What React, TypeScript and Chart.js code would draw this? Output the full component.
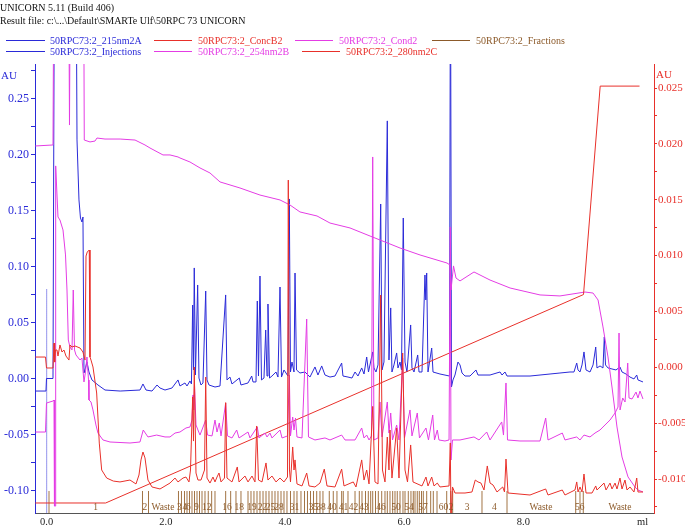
import { useEffect, useRef } from "react";
import { Chart, registerables } from "chart.js";
Chart.register(...registerables);

// ---- data (x in ml) ----
const uv215nm2A: [number, number][] = [
  [-0.19, -0.0112], [-0.012, -0.0112], [-0.003, 0.0], [0.106, 0.0], [0.131, 0.4], [0.492, 0.4],
  [0.509, 0.213], [0.542, 0.1594], [0.567, 0.1433], [0.592, 0.1397], [0.609, 0.1442], [0.626, 0.0049],
  [0.651, 0.0094], [0.676, 0.0147], [0.71, 0.0058], [0.76, -0.0013], [0.861, -0.0058], [0.979, -0.0103],
  [1.233, -0.0112], [1.567, -0.0103], [1.616, -0.0049], [1.667, -0.0103], [1.768, -0.0112], [1.852, -0.0058],
  [1.902, -0.0085], [1.986, -0.0103], [2.103, -0.0085], [2.204, -0.0013], [2.237, -0.0067], [2.321, -0.004],
  [2.355, -0.0067], [2.405, -0.0022], [2.43, -0.0049], [2.45, 0.0656], [2.464, 0.0076], [2.477, 0.0987],
  [2.497, 0.0031], [2.534, 0.0835], [2.556, 0.0004], [2.59, -0.0058], [2.623, -0.004], [2.669, 0.0781],
  [2.691, -0.0013], [2.724, -0.0058], [2.825, -0.0076], [2.909, -0.0067], [3.004, 0.0746], [3.026, -0.0013],
  [3.076, 0.0013], [3.11, -0.0049], [3.233, 0.0004], [3.261, -0.0058], [3.379, -0.004], [3.441, 0.0022],
  [3.463, -0.0031], [3.513, -0.0031], [3.535, 0.0692], [3.555, 0.0022], [3.58, 0.0915], [3.605, -0.0013],
  [3.647, 0.0004], [3.676, 0.0433], [3.698, 0.0022], [3.714, 0.0665], [3.74, 0.0004], [3.781, 0.0022],
  [3.849, 0.0058], [3.882, 0.0013], [3.916, 0.0817], [3.941, 0.0013], [3.983, 0.0076], [4.05, 0.0022],
  [4.072, 0.1603], [4.092, 0.0058], [4.117, 0.0147], [4.151, 0.0058], [4.168, 0.0942], [4.193, 0.0076],
  [4.251, 0.0049], [4.335, 0.0058], [4.419, 0.0013], [4.503, 0.0103], [4.553, 0.0031], [4.616, 0.0112],
  [4.671, 0.0031], [4.755, 0.0013], [4.839, 0.0022], [4.951, 0.0138], [4.973, 0.0022], [5.057, 0.0013],
  [5.124, 0.0004], [5.175, 0.0058], [5.225, 0.0022], [5.287, 0.0094], [5.326, 0.004], [5.371, 0.0192],
  [5.401, 0.0058], [5.472, 0.0237], [5.493, 0.0094], [5.527, 0.0058], [5.561, 0.0121], [5.606, 0.1558],
  [5.628, 0.0076], [5.661, 0.0147], [5.717, 0.23], [5.745, 0.0165], [5.774, 0.063], [5.795, 0.0058],
  [5.829, 0.0121], [5.874, 0.0228], [5.896, 0.0094], [5.93, 0.0147], [5.955, 0.0076], [5.985, 0.1433],
  [6.014, 0.0147], [6.047, 0.0058], [6.109, 0.0478], [6.131, 0.0094], [6.165, 0.0058], [6.227, 0.021],
  [6.249, 0.0058], [6.299, 0.0058], [6.349, 0.0924], [6.363, 0.0701], [6.378, 0.0942], [6.4, 0.0058],
  [6.462, 0.0272], [6.484, 0.0058], [6.601, 0.004], [6.761, 0.0022], [6.777, 0.4], [6.794, -0.0076],
  [6.819, -0.0013], [6.853, 0.0031], [6.903, 0.0147], [6.937, 0.0121], [6.971, 0.0049], [7.021, 0.0022],
  [7.105, 0.0022], [7.205, 0.0076], [7.239, 0.0031], [7.441, 0.0031], [7.609, 0.0058], [7.642, 0.0031],
  [7.692, 0.0058], [7.726, 0.0022], [8.112, 0.0022], [8.448, 0.004], [8.615, 0.0049], [8.783, 0.0058],
  [8.85, 0.0058], [8.896, 0.0138], [8.918, 0.0076], [8.951, 0.0058], [8.985, 0.0121], [9.018, 0.0237],
  [9.052, 0.0076], [9.119, 0.0058], [9.17, 0.0121], [9.215, 0.0281], [9.236, 0.0094], [9.287, 0.0112],
  [9.337, 0.0094], [9.359, 0.0371], [9.379, 0.0121], [9.421, 0.0094], [9.488, 0.0085], [9.555, 0.0076],
  [9.622, 0.0103], [9.656, 0.0058], [9.723, 0.004], [9.79, 0.0013], [9.857, -0.0004], [9.903, 0.0031],
  [9.924, -0.0013], [10.008, -0.0031],
];

const uv254nm2B: [number, number][] = [
  [-0.19, -0.0478], [-0.02, -0.0478], [-0.003, -0.0219], [0.106, -0.0201], [0.123, -0.0192], [0.131, -0.1139],
  [0.143, -0.1139], [0.151, 0.1898], [0.19, 0.1442], [0.223, 0.1415], [0.274, 0.1326], [0.316, 0.1103],
  [0.341, 0.079], [0.363, 0.0344], [0.391, 0.0281], [0.425, 0.0255], [0.446, 0.079], [0.467, 0.0255],
  [0.492, 0.021], [0.559, 0.0165], [0.592, 0.0183], [0.626, -0.0031], [0.651, 0.0058], [0.676, 0.0192],
  [0.702, -0.0013], [0.71, -0.0192], [0.744, -0.021], [0.777, -0.0281], [0.827, -0.0415], [0.861, -0.0487],
  [0.945, -0.0549], [1.063, -0.0567], [1.398, -0.0576], [1.566, -0.0567], [1.621, -0.046], [1.7, -0.0522],
  [1.846, -0.0505], [1.986, -0.0522], [2.07, -0.0522], [2.154, -0.0487], [2.237, -0.0478], [2.338, -0.0442],
  [2.405, -0.0433], [2.439, -0.0371], [2.456, -0.0147], [2.467, -0.0281], [2.481, -0.0058], [2.506, -0.0415],
  [2.539, -0.046], [2.573, -0.0505], [2.669, -0.0371], [2.699, -0.0505], [2.775, -0.0513], [2.825, -0.0371],
  [2.859, -0.0478], [2.897, -0.0397], [2.926, -0.0513], [3.004, -0.0219], [3.035, -0.0513], [3.11, -0.0531],
  [3.189, -0.046], [3.228, -0.0531], [3.379, -0.0478], [3.412, -0.0531], [3.535, -0.0433], [3.563, -0.0531],
  [3.664, -0.0487], [3.698, -0.0522], [3.748, -0.0487], [3.781, -0.0531], [3.916, -0.046], [3.95, -0.0531],
  [4.042, -0.0513], [4.072, 0.0031], [4.092, -0.0513], [4.129, -0.0344], [4.151, -0.046], [4.176, -0.0353],
  [4.201, -0.0522], [4.285, -0.0531], [4.364, 0.0531], [4.394, -0.0522], [4.503, -0.0549], [4.671, -0.0531],
  [4.755, -0.0549], [4.951, -0.0505], [5.007, -0.0549], [5.175, -0.0549], [5.287, -0.0442], [5.326, -0.0531],
  [5.371, -0.0505], [5.41, -0.0549], [5.452, -0.0513], [5.472, 0.1978], [5.493, -0.0549], [5.561, -0.0531],
  [5.594, -0.021], [5.628, -0.0522], [5.717, -0.021], [5.745, -0.0487], [5.774, -0.0308], [5.804, -0.0549],
  [5.874, -0.0415], [5.913, -0.0549], [5.975, 0.0183], [6.005, -0.0531], [6.098, -0.0281], [6.131, -0.0513],
  [6.22, -0.0308], [6.257, -0.0531], [6.366, -0.0442], [6.408, -0.0549], [6.479, -0.0326], [6.509, -0.0549],
  [6.556, -0.046], [6.584, -0.0549], [6.685, -0.0558], [6.753, -0.0549], [6.774, 0.1353], [6.786, -0.0728],
  [6.811, -0.0549], [6.937, -0.0549], [7.172, -0.0522], [7.256, -0.0549], [7.385, -0.0478], [7.441, -0.0549],
  [7.637, -0.0388], [7.667, -0.0505], [7.709, -0.004], [7.734, -0.0549], [7.944, -0.0558], [8.28, -0.0558],
  [8.375, -0.0353], [8.414, -0.0549], [8.654, -0.0487], [8.699, -0.0549], [8.896, -0.0522], [8.951, -0.0549],
  [9.018, -0.0505], [9.119, -0.0522], [9.203, -0.0487], [9.287, -0.046], [9.371, -0.0415], [9.455, -0.0371],
  [9.539, -0.0308], [9.589, -0.0255], [9.606, 0.0406], [9.623, -0.0281], [9.668, -0.0174], [9.707, -0.021],
  [9.752, 0.0138], [9.774, -0.0174], [9.824, -0.0183], [9.891, -0.0121], [9.924, -0.0174], [9.958, -0.0112],
  [10.008, -0.0183],
];

const uv280nm2C: [number, number][] = [
  [-0.19, 0.00092], [-0.02, 0.00092], [-0.003, -0.00006], [0.106, -0.00006], [0.123, 0.00217], [0.134, 0.00047],
  [0.148, 0.00155], [0.173, 0.00155], [0.19, 0.00101], [0.223, 0.002], [0.257, 0.00137], [0.29, 0.00155],
  [0.324, 0.00101], [0.374, 0.00065], [0.391, 0.002], [0.425, 0.00182], [0.475, 0.00191], [0.559, 0.00173],
  [0.609, 0.00137], [0.643, 0.00065], [0.66, 0.00996], [0.681, 0.01032], [0.715, 0.0105], [0.727, 0.00092],
  [0.744, 0.00065], [0.777, 0.00003], [0.839, -0.0023], [0.883, -0.00678], [0.923, -0.00919], [1.007, -0.00991],
  [1.118, -0.01018], [1.23, -0.01026], [1.398, -0.01009], [1.499, -0.01044], [1.549, -0.00964], [1.583, -0.00829],
  [1.616, -0.00758], [1.65, -0.00811], [1.7, -0.01009], [1.768, -0.01071], [1.902, -0.01089], [2.07, -0.01036],
  [2.154, -0.00991], [2.204, -0.01026], [2.288, -0.00991], [2.338, -0.00982], [2.388, -0.01026], [2.414, -0.00919],
  [2.45, -0.00265], [2.464, -0.0066], [2.477, 0.00003], [2.506, -0.00946], [2.539, -0.01009], [2.59, -0.01009],
  [2.649, -0.00919], [2.669, -0.00087], [2.691, -0.00991], [2.741, -0.01036], [2.791, -0.00982], [2.825, -0.01026],
  [2.859, -0.00982], [2.892, -0.00946], [2.926, -0.01026], [2.984, -0.00991], [3.004, -0.00316], [3.026, -0.00991],
  [3.11, -0.01026], [3.199, -0.00892], [3.228, -0.01026], [3.328, -0.00973], [3.379, -0.01026], [3.446, -0.00973],
  [3.496, -0.01026], [3.525, -0.00525], [3.555, -0.01009], [3.614, -0.01026], [3.681, -0.00856], [3.714, -0.01009],
  [3.781, -0.00973], [3.849, -0.01026], [3.916, -0.00991], [3.983, -0.01026], [4.042, -0.00982], [4.055, 0.01676],
  [4.075, -0.00919], [4.092, -0.01026], [4.129, -0.00713], [4.151, -0.00919], [4.168, -0.00829], [4.201, -0.01044],
  [4.285, -0.01062], [4.364, -0.00946], [4.403, -0.01062], [4.503, -0.01071], [4.587, -0.01036], [4.659, -0.00911],
  [4.705, -0.01062], [4.839, -0.01071], [4.951, -0.00911], [4.99, -0.01062], [5.146, -0.01026], [5.191, -0.01071],
  [5.287, -0.00829], [5.326, -0.01009], [5.371, -0.00919], [5.41, -0.01044], [5.472, -0.0035], [5.51, -0.01026],
  [5.561, -0.01044], [5.606, 0.00647], [5.636, -0.00919], [5.678, -0.01026], [5.717, -0.00624], [5.745, -0.00919],
  [5.762, -0.00561], [5.795, -0.00991], [5.874, -0.00543], [5.913, -0.00991], [5.975, 0.00128], [6.014, -0.00919],
  [6.056, -0.01026], [6.109, -0.00695], [6.148, -0.01026], [6.299, -0.01062], [6.366, -0.00982], [6.4, -0.01062],
  [6.462, -0.00982], [6.501, -0.01062], [6.556, -0.01036], [6.601, -0.01071], [6.753, -0.01062], [6.774, -0.00677],
  [6.786, -0.01367], [6.811, -0.01071], [6.853, -0.01125], [7.021, -0.01125], [7.138, -0.01116], [7.193, -0.01009],
  [7.239, -0.01026], [7.289, -0.01036], [7.34, -0.01098], [7.395, -0.00883], [7.441, -0.01036], [7.491, -0.01053],
  [7.558, -0.01116], [7.654, -0.01071], [7.684, -0.01116], [7.709, -0.00821], [7.743, -0.01125], [8.112, -0.01143],
  [8.375, -0.01089], [8.414, -0.01143], [8.654, -0.01098], [8.699, -0.01143], [8.867, -0.01098], [8.896, -0.01026],
  [8.918, -0.01116], [8.951, -0.01071], [8.985, -0.01116], [9.018, -0.00955], [9.052, -0.01125], [9.153, -0.01125],
  [9.215, -0.01062], [9.236, -0.01098], [9.354, -0.01036], [9.388, -0.01098], [9.455, -0.01036], [9.488, -0.01089],
  [9.539, -0.01036], [9.572, -0.01089], [9.622, -0.00991], [9.656, -0.01089], [9.706, -0.01009], [9.74, -0.01098],
  [9.79, -0.01071], [9.857, -0.01116], [9.903, -0.00991], [9.924, -0.01116], [10.008, -0.01116],
];

// conductivity trace, in the scale of the left axis
const cond2: [number, number][] = [
  [-0.19, 0.2076], [0.106, 0.2085], [0.123, 0.4], [0.366, 0.4], [0.383, 0.2263], [0.399, 0.4], [0.618, 0.4],
  [0.631, 0.2129], [0.727, 0.2112], [0.811, 0.212], [0.844, 0.2147], [0.979, 0.2138], [1.233, 0.2138],
  [1.483, 0.2129], [1.65, 0.2085], [1.734, 0.2058], [1.952, 0.1996], [2.07, 0.1996], [2.204, 0.1978],
  [2.237, 0.1969], [2.405, 0.1933], [2.573, 0.188], [2.741, 0.1835], [2.909, 0.1755], [3.244, 0.1701],
  [3.58, 0.1638], [3.916, 0.1594], [4.084, 0.1549], [4.251, 0.1487], [4.537, 0.1451], [4.755, 0.1388],
  [5.091, 0.1344], [5.427, 0.1272], [5.762, 0.1201], [5.93, 0.1165], [6.266, 0.1103], [6.719, 0.1031],
  [6.77, 0.1013], [6.786, 0.079], [6.828, 0.1005], [6.87, 0.0897], [6.937, 0.0871], [7.172, 0.0951],
  [7.441, 0.0879], [7.777, 0.0808], [8.28, 0.0746], [8.615, 0.0737], [9.035, 0.0772], [9.17, 0.0763],
  [9.254, 0.0701], [9.337, 0.046], [9.421, 0.0192], [9.488, -0.0076], [9.572, -0.0433], [9.656, -0.0701],
  [9.757, -0.0879], [9.874, -0.0969], [9.924, -0.0996], [10.008, -0.1013],
];

// %B gradient
const concB2: [number, number][] = [[-0.19, 0], [0.99, 0], [9.01, 50], [9.29, 100], [9.95, 100]];

const injections: number[] = [0.0];
const injectionTop = 0.08;

const fractionMarks: number[] = [
  0.039, 1.608, 1.709, 2.212, 2.262, 2.313, 2.355, 2.397, 2.439, 2.481, 2.523, 2.565, 2.607, 2.657, 2.712,
  2.769, 2.825, 3.004, 3.088, 3.177, 3.261, 3.379, 3.429, 3.479, 3.53, 3.58, 3.631, 3.681, 3.731, 3.782,
  3.832, 3.882, 3.933, 3.983, 4.033, 4.092, 4.151, 4.201, 4.268, 4.327, 4.377, 4.428, 4.478, 4.532, 4.587,
  4.637, 4.743, 4.81, 4.872, 4.951, 4.978, 5.057, 5.175, 5.247, 5.292, 5.351, 5.398, 5.438, 5.472, 5.519,
  5.566, 5.623, 5.678, 5.717, 5.762, 5.807, 5.846, 5.884, 5.93, 5.98, 6.014, 6.069, 6.114, 6.153, 6.182,
  6.22, 6.254, 6.291, 6.321, 6.378, 6.445, 6.489, 6.551, 6.714, 6.781, 6.814, 7.306, 7.726, 8.879, 8.951, 9.006,
];
const fractionLabelPos: number[] = [
  0.822, 1.65, 1.952, 2.229, 2.321, 2.38, 2.514, 2.685, 3.026, 3.233, 3.446, 3.622, 3.756, 3.899, 4.159,
  4.478, 4.604, 4.789, 4.982, 5.149, 5.326, 5.611, 5.863, 6.081, 6.316, 6.66, 6.786, 7.055, 7.516, 8.296,
  8.909, 8.985, 9.622,
];
const fractionLabelText: string[] = [
  "1", "2", "Waste", "3", "4", "6", "9", "12", "16", "18", "19", "22", "25", "28", "31",
  "35", "38", "40", "41", "42", "43", "46", "50", "54", "57", "60", "2", "3", "4", "Waste",
  "5", "6", "Waste",
];

const xTickStep = 2;
const leftTickStep = 0.025;
const rightTickStep = 0.0025;

const BLUE = "#2a2ad8";
const RED = "#e8302a";
const MAGENTA = "#e43ce4";
const BROWN = "#8c5a2a";
const FONT = '"Liberation Serif", "Times New Roman", serif';

const toXY = (a: [number, number][]) => a.map(([x, y]) => ({ x, y }));

const fractionLabelPlugin = {
  id: "fractionLabels",
  afterDatasetsDraw(chart: any) {
    const { ctx, chartArea, scales } = chart;
    ctx.save();
    ctx.font = `9.5px ${FONT}`;
    ctx.fillStyle = BROWN;
    ctx.textAlign = "center";
    ctx.textBaseline = "middle";
    fractionLabelPos.forEach((p, i) => {
      ctx.fillText(fractionLabelText[i], scales.x.getPixelForValue(p), chartArea.bottom - 6);
    });
    ctx.restore();
  },
};

export default function App() {
  const ref = useRef<HTMLCanvasElement>(null);
  useEffect(() => {
    Chart.defaults.font.family = FONT;
    const fracData: any[] = [];
    fractionMarks.forEach((m) => {
      fracData.push({ x: m, y: 0 }, { x: m, y: 1 }, { x: m, y: null });
    });
    const injData: any[] = [];
    injections.forEach((m) => injData.push({ x: m, y: -0.2 }, { x: m, y: injectionTop }, { x: m, y: null }));
    const line = (extra: any) => ({
      borderWidth: 1,
      pointRadius: 0,
      tension: 0,
      fill: false,
      spanGaps: false,
      ...extra,
    });
    const chart = new Chart(ref.current!, {
      type: "line",
      data: {
        datasets: [
          line({ label: "50RPC73:2_280nm2C", data: toXY(uv280nm2C), borderColor: RED, yAxisID: "y2", order: 0 }),
          line({ label: "50RPC73:2_254nm2B", data: toXY(uv254nm2B), borderColor: MAGENTA, yAxisID: "y", order: 1 }),
          line({ label: "50RPC73:2_ConcB2", data: toXY(concB2), borderColor: RED, yAxisID: "yB", order: 2 }),
          line({ label: "50RPC73:2_Cond2", data: toXY(cond2), borderColor: MAGENTA, yAxisID: "yC", order: 3 }),
          line({ label: "50RPC73:2_215nm2A", data: toXY(uv215nm2A), borderColor: BLUE, yAxisID: "y", order: 4 }),
          line({ label: "50RPC73:2_Injections", data: injData, borderColor: BLUE, borderDash: [1, 1], yAxisID: "y", order: 5 }),
          line({ label: "50RPC73:2_Fractions", data: fracData, borderColor: "#a27444", yAxisID: "yF", order: 6 }),
        ],
      },
      options: {
        animation: false,
        responsive: false,
        devicePixelRatio: 1,
        events: [],
        layout: { padding: { top: 64, left: 0, right: 0, bottom: 0 } },
        plugins: { legend: { display: false }, tooltip: { enabled: false }, title: { display: false } },
        scales: {
          x: {
            type: "linear",
            position: "bottom",
            min: -0.196,
            max: 10.193,
            afterFit: (s: any) => { s.height = 13; },
            border: { color: "#555", width: 1 },
            grid: { drawOnChartArea: false, drawTicks: false },
            ticks: {
              stepSize: xTickStep,
              includeBounds: false,
              autoSkip: false,
              maxRotation: 0,
              padding: 3,
              color: "#222",
              font: { size: 10.5, family: FONT },
              callback: (v: any) => (Math.abs(v - 10) < 1e-6 ? "ml" : Number(v).toFixed(1)),
            },
          },
          y: {
            type: "linear",
            position: "left",
            min: -0.1201,
            max: 0.2808,
            afterFit: (s: any) => { s.width = 35; },
            border: { color: BLUE, width: 1 },
            grid: { drawOnChartArea: false, drawTicks: true, tickLength: 4, color: BLUE },
            ticks: {
              stepSize: leftTickStep,
              includeBounds: false,
              autoSkip: false,
              padding: 2,
              color: BLUE,
              font: { size: 12, family: FONT },
              callback: (v: any) => {
                const n = Number(v);
                const k = Math.round(n / 0.05);
                if (Math.abs(k * 0.05 - n) > 1e-6) return "";
                const r = k * 0.05;
                return (Math.abs(r) < 1e-9 ? 0 : r).toFixed(2);
              },
            },
          },
          y2: {
            type: "linear",
            position: "right",
            min: -0.01304,
            max: 0.02715,
            afterFit: (s: any) => { s.width = 31; },
            border: { color: RED, width: 1 },
            grid: { drawOnChartArea: false, drawTicks: true, tickLength: 3, color: RED },
            ticks: {
              stepSize: rightTickStep,
              includeBounds: false,
              autoSkip: false,
              padding: 1,
              color: RED,
              font: { size: 11, family: FONT },
              callback: (v: any) => {
                const n = Number(v);
                const k = Math.round(n / 0.005);
                if (Math.abs(k * 0.005 - n) > 1e-7) return "";
                const r = k * 0.005;
                return (Math.abs(r) < 1e-9 ? 0 : r).toFixed(3);
              },
            },
          },
          yB: { type: "linear", display: false, min: -2.4, max: 105.3 },
          yC: { type: "linear", display: false, min: -0.1201, max: 0.2808 },
          yF: { type: "linear", display: false, min: 0, max: 20.4 },
        },
      },
      plugins: [fractionLabelPlugin],
    } as any);
    return () => chart.destroy();
  }, []);

  const legendRows = [
    { y: 40, items: [
      { x1: 6, x2: 45, tx: 50, color: BLUE, text: "50RPC73:2_215nm2A" },
      { x1: 154, x2: 192, tx: 198, color: RED, text: "50RPC73:2_ConcB2" },
      { x1: 295, x2: 333, tx: 339, color: MAGENTA, text: "50RPC73:2_Cond2" },
      { x1: 432, x2: 470, tx: 476, color: BROWN, text: "50RPC73:2_Fractions" },
    ] },
    { y: 51, items: [
      { x1: 6, x2: 45, tx: 50, color: BLUE, text: "50RPC73:2_Injections" },
      { x1: 154, x2: 192, tx: 198, color: MAGENTA, text: "50RPC73:2_254nm2B" },
      { x1: 302, x2: 340, tx: 346, color: RED, text: "50RPC73:2_280nm2C" },
    ] },
  ];

  const txt = (s: any): any => ({
    position: "absolute",
    whiteSpace: "nowrap",
    fontFamily: FONT,
    fontSize: 10,
    lineHeight: "12px",
    ...s,
  });

  return (
    <div style={{ position: "fixed", left: 0, top: 0, width: 685, height: 526, background: "#fff", overflow: "hidden" }}>
      <canvas ref={ref} width={685} height={526} style={{ position: "absolute", left: 0, top: 0 }} />
      <div style={txt({ left: 0, top: 2, color: "#111" })}>UNICORN 5.11 (Build 406)</div>
      <div style={txt({ left: 0, top: 15, color: "#111" })}>{"Result file: c:\\...\\Default\\SMARTe Ulf\\50RPC 73 UNICORN"}</div>
      {legendRows.map((row, ri) =>
        row.items.map((it, i) => (
          <div key={`${ri}-${i}`}>
            <div style={{ position: "absolute", left: it.x1, top: row.y, width: it.x2 - it.x1, height: 1, background: it.color }} />
            <div style={txt({ left: it.tx, top: row.y - 5.5, color: it.color })}>{it.text}</div>
          </div>
        ))
      )}
      <div style={txt({ left: 1, top: 69, color: BLUE, fontSize: 11 })}>AU</div>
      <div style={txt({ left: 656, top: 68, color: RED, fontSize: 11 })}>AU</div>
    </div>
  );
}
